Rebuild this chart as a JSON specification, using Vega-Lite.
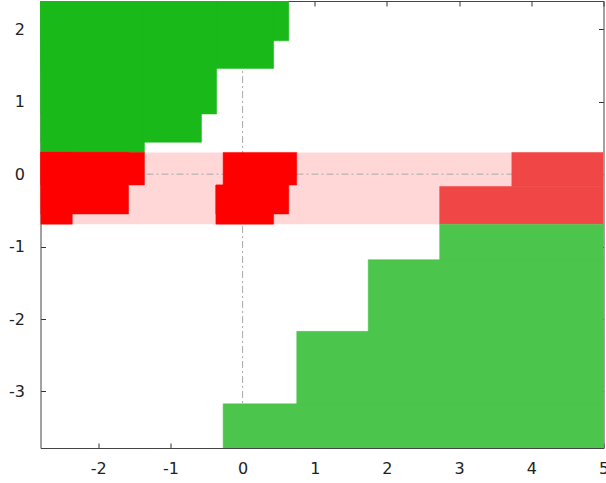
{
  "$schema": "https://vega.github.io/schema/vega-lite/v6.json",
  "width": 563,
  "height": 447,
  "autosize": {"type": "none"},
  "padding": {"left": 40.5, "top": 1, "right": 2.5, "bottom": 35},
  "config": {
    "view": {"stroke": null},
    "axis": {
      "labelFont": "DejaVu Sans",
      "labelFontSize": 16,
      "labelColor": "#222222",
      "tickColor": "#333333",
      "tickSize": -5,
      "domain": true,
      "domainColor": "#444444",
      "domainWidth": 1,
      "grid": false,
      "ticks": true,
      "title": null,
      "zindex": 1,
      "labelExpr": "'' + datum.value"
    }
  },
  "datasets": {
    "band": [{"x1": -2.8, "x2": 5, "y1": -0.69, "y2": 0.3}],
    "zero": [{"v": 0}],
    "regions": [
      {"set": "upper green", "x1": -2.8, "x2": 0.64, "y1": 1.84, "y2": 2.39},
      {"set": "upper green", "x1": -2.8, "x2": 0.43, "y1": 1.46, "y2": 2.39},
      {"set": "upper green", "x1": -2.8, "x2": -0.36, "y1": 0.83, "y2": 2.39},
      {"set": "upper green", "x1": -2.8, "x2": -0.57, "y1": 0.44, "y2": 2.39},
      {"set": "upper green", "x1": -2.8, "x2": -1.36, "y1": 0.3, "y2": 2.39},
      {"set": "red", "x1": -2.8, "x2": -1.36, "y1": -0.15, "y2": 0.3},
      {"set": "red", "x1": -2.8, "x2": -1.58, "y1": -0.55, "y2": 0.3},
      {"set": "red", "x1": -2.8, "x2": -2.36, "y1": -0.69, "y2": 0.3},
      {"set": "red", "x1": -0.27, "x2": 0.75, "y1": -0.15, "y2": 0.3},
      {"set": "red", "x1": -0.37, "x2": 0.64, "y1": -0.55, "y2": -0.15},
      {"set": "red", "x1": -0.37, "x2": 0.43, "y1": -0.69, "y2": -0.15},
      {"set": "right red", "x1": 3.73, "x2": 5, "y1": -0.17, "y2": 0.3},
      {"set": "right red", "x1": 2.73, "x2": 5, "y1": -0.69, "y2": -0.17},
      {"set": "lower green", "x1": 2.73, "x2": 5, "y1": -3.78, "y2": -0.69},
      {"set": "lower green", "x1": 1.74, "x2": 5, "y1": -3.78, "y2": -1.18},
      {"set": "lower green", "x1": 0.75, "x2": 5, "y1": -3.78, "y2": -2.17},
      {"set": "lower green", "x1": -0.27, "x2": 5, "y1": -3.78, "y2": -3.17}
    ]
  },
  "layer": [
    {
      "data": {"name": "band"},
      "mark": {"type": "rect", "color": "#ffd7d7", "clip": true},
      "encoding": {
        "x": {"field": "x1", "type": "quantitative", "axis": null},
        "x2": {"field": "x2"},
        "y": {"field": "y1", "type": "quantitative", "axis": null},
        "y2": {"field": "y2"}
      }
    },
    {
      "data": {"name": "zero"},
      "mark": {"type": "rule", "color": "#a8a8a8", "strokeWidth": 1, "strokeDash": [7, 3, 2, 3]},
      "encoding": {
        "x": {"field": "v", "type": "quantitative", "axis": {"orient": "top", "labels": false, "values": [-2, -1, 0, 1, 2, 3, 4, 5]}}
      }
    },
    {
      "data": {"name": "zero"},
      "mark": {"type": "rule", "color": "#a8a8a8", "strokeWidth": 1, "strokeDash": [7, 3, 2, 3]},
      "encoding": {
        "y": {"field": "v", "type": "quantitative", "axis": {"orient": "right", "labels": false, "values": [-3, -2, -1, 0, 1, 2]}}
      }
    },
    {
      "data": {"name": "regions"},
      "mark": {"type": "rect", "clip": true, "strokeWidth": 0.5},
      "encoding": {
        "x": {"field": "x1", "type": "quantitative", "scale": {"domain": [-2.8, 5], "nice": false, "zero": false}, "axis": {"orient": "bottom", "values": [-2, -1, 0, 1, 2, 3, 4, 5], "labelPadding": 17, "labelFlush": false}},
        "x2": {"field": "x2"},
        "y": {"field": "y1", "type": "quantitative", "scale": {"domain": [-3.78, 2.39], "nice": false, "zero": false}, "axis": {"orient": "left", "values": [-3, -2, -1, 0, 1, 2], "labelPadding": 21, "labelFlush": false}},
        "y2": {"field": "y2"},
        "color": {"field": "set", "type": "nominal", "scale": {"domain": ["upper green", "red", "right red", "lower green"], "range": ["#19b919", "#ff0000", "#f04646", "#4cc54c"]}, "legend": null},
        "stroke": {"field": "set", "type": "nominal", "scale": {"domain": ["upper green", "red", "right red", "lower green"], "range": ["#19b919", "#ff0000", "#f04646", "#4cc54c"]}, "legend": null}
      }
    }
  ],
  "resolve": {"axis": {"x": "independent", "y": "independent"}}
}
